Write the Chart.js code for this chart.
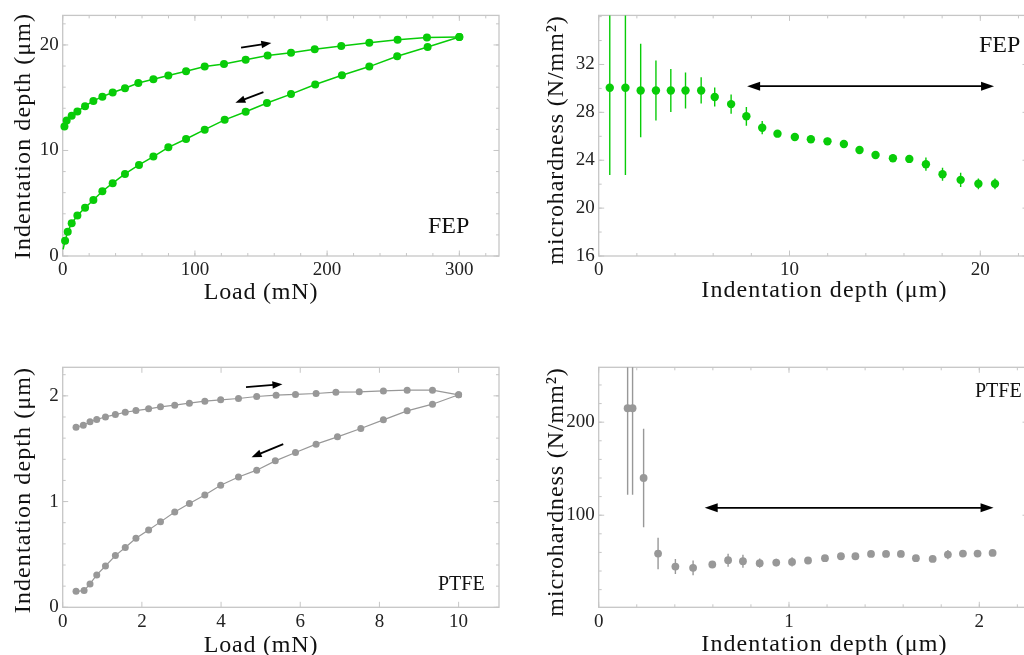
<!DOCTYPE html>
<html><head><meta charset="utf-8">
<script src="https://cdn.jsdelivr.net/npm/chart.js@4/dist/chart.umd.min.js"></script>
<style>
html,body{margin:0;padding:0;background:#fff;overflow:hidden;width:1024px;height:655px;position:relative;}
canvas{position:absolute;}
</style></head><body>
<canvas id="c1" width="512" height="320" style="left:0;top:0;width:512px;height:320px"></canvas>
<canvas id="c2" width="540" height="320" style="left:512px;top:0;width:540px;height:320px"></canvas>
<canvas id="c3" width="512" height="330" style="left:0;top:330px;width:512px;height:330px"></canvas>
<canvas id="c4" width="540" height="330" style="left:512px;top:330px;width:540px;height:330px"></canvas>
<script>
// ---------- DATA ----------
// FEP load-depth loop
const fepLoadLoading  = [0.3,1.8,3.8,6.8,11.1,16.9,23.2,30,37.8,47.1,57.7,68.6,79.9,93.3,107.4,122.5,138.4,154.5,172.7,191,211.2,231.9,253,276,300];
const fepDepthLoading = [0.62,1.45,2.3,3.1,3.84,4.57,5.3,6.14,6.9,7.78,8.63,9.42,10.3,11.09,11.97,12.9,13.67,14.5,15.34,16.25,17.13,17.95,18.93,19.8,20.75];
const fepLoadUnloading  = [300,275.5,253.3,231.9,210.7,190.6,172.7,155,138.4,122,107.4,93.3,79.9,68.6,57.2,47.1,37.8,30,23.2,16.9,11.1,6.8,3,1.3];
const fepDepthUnloading = [20.75,20.7,20.5,20.2,19.9,19.6,19.25,19.0,18.6,18.2,17.95,17.5,17.1,16.75,16.4,15.9,15.5,15.1,14.7,14.2,13.7,13.3,12.85,12.28];
// FEP microhardness
const fepHDepth = [0.58,1.40,2.2,3.0,3.78,4.55,5.37,6.08,6.94,7.74,8.57,9.37,10.28,11.12,11.99,12.85,13.67,14.51,15.42,16.28,17.15,18.02,18.97,19.9,20.77];
const fepHard   = [30.06,30.06,29.83,29.83,29.83,29.83,29.83,29.28,28.69,27.67,26.72,26.22,25.94,25.75,25.58,25.36,24.86,24.44,24.17,24.11,23.67,22.83,22.36,22.03,22.03];
const fepHErr   = [7.3,7.3,3.9,2.5,1.8,1.5,1.1,0.8,0.8,0.78,0.55,0.2,0.2,0.3,0.3,0.25,0.3,0.3,0.3,0.25,0.55,0.55,0.6,0.45,0.45];
// PTFE load-depth loop
const ptfeLoadLoading  = [0.337,0.54,0.69,0.86,1.08,1.33,1.58,1.85,2.17,2.47,2.83,3.2,3.59,3.99,4.44,4.9,5.37,5.88,6.4,6.94,7.53,8.1,8.7,9.34,10.0];
const ptfeDepthLoading = [0.151,0.158,0.221,0.306,0.391,0.489,0.565,0.653,0.732,0.808,0.902,0.981,1.063,1.155,1.233,1.297,1.385,1.464,1.543,1.612,1.691,1.773,1.858,1.921,2.01];
const ptfeLoadUnloading  = [10.0,9.34,8.7,8.1,7.49,6.9,6.4,5.88,5.39,4.9,4.44,3.99,3.59,3.2,2.83,2.47,2.17,1.85,1.58,1.33,1.08,0.86,0.69,0.52,0.337];
const ptfeDepthUnloading = [2.01,2.054,2.054,2.047,2.038,2.035,2.022,2.013,2.006,1.994,1.975,1.962,1.95,1.931,1.912,1.896,1.877,1.861,1.845,1.823,1.801,1.776,1.754,1.722,1.703];
// PTFE microhardness
const ptfeHDepth = [0.152,0.178,0.236,0.312,0.403,0.496,0.597,0.68,0.758,0.846,0.933,1.016,1.1,1.189,1.273,1.349,1.431,1.51,1.588,1.667,1.755,1.835,1.914,1.991,2.07];
const ptfeHard   = [215,215,140,58.8,44.8,43.4,47,51.6,50.5,48.4,49.1,49.8,51.3,53.8,55.9,55.9,58.4,58.4,58.4,53.8,53,57.7,58.8,58.8,59.5];
const ptfeHErr   = [93,93,53,17,8,8,3,7,7,5,4,5,3,2,2,2,2,2,2,2,2,5,2,2,2];
// tick labels
const p1XTicks = [0,100,200,300], p1YTicks = [0,10,20];
const p2XTicks = [0,10,20],       p2YTicks = [16,20,24,28,32];
const p3XTicks = [0,2,4,6,8,10],  p3YTicks = [0,1,2];
const p4XTicks = [0,1,2],         p4YTicks = [100,200];
// arrows [x1,y1,x2,y2] in data units
const p1Arrows = [[134.9,19.75,157.8,20.19],[151.8,15.53,130.6,14.52]];
const p3Arrows = [[4.63,2.082,5.55,2.11],[5.57,1.543,4.77,1.42]];
const p2Range = [7.78,20.72,30.19];
const p4Range = [0.557,2.075,107.9];

// ---------- STYLE ----------
const GREEN = 'rgb(8,204,8)', GRAY = 'rgb(152,152,152)';
const FRAME = '#c6c6c6';
const FONT = "'Liberation Serif', 'Times New Roman', serif";

function range(a,b,s){const r=[];for(let v=a;v<=b+1e-9;v+=s)r.push(+v.toFixed(6));return r;}
function pts(xs,ys){return xs.map((x,i)=>({x,y:ys[i]}));}

const framePlugin = {
  id:'frameTicks',
  beforeDatasetsDraw(chart, args, o){
    const {ctx, chartArea:a, scales:{x,y}} = chart;
    ctx.save();
    ctx.strokeStyle = FRAME; ctx.lineWidth = 1.3;
    ctx.strokeRect(a.left, a.top, a.right-a.left, a.bottom-a.top);
    ctx.lineWidth = 1;
    const drawX=(vals,len)=>vals.forEach(v=>{ if(v<x.min||v>x.max) return; const p=x.getPixelForValue(v);
      ctx.beginPath(); ctx.moveTo(p,a.bottom); ctx.lineTo(p,a.bottom-len); ctx.moveTo(p,a.top); ctx.lineTo(p,a.top+len); ctx.stroke();});
    const drawY=(vals,len)=>vals.forEach(v=>{ if(v<y.min||v>y.max) return; const p=y.getPixelForValue(v);
      ctx.beginPath(); ctx.moveTo(a.left,p); ctx.lineTo(a.left+len,p); ctx.moveTo(a.right,p); ctx.lineTo(a.right-len,p); ctx.stroke();});
    drawX(o.xMinor||[],3); drawY(o.yMinor||[],3);
    drawX(o.xMajor||[],5.5); drawY(o.yMajor||[],5.5);
    // error bars
    if(o.err){
      ctx.save(); ctx.beginPath(); ctx.rect(a.left,a.top,a.right-a.left,a.bottom-a.top); ctx.clip();
      ctx.strokeStyle=o.err.color; ctx.lineWidth=1.4;
      o.err.x.forEach((xv,i)=>{ const px=x.getPixelForValue(xv);
        ctx.beginPath(); ctx.moveTo(px,y.getPixelForValue(o.err.y[i]-o.err.e[i])); ctx.lineTo(px,y.getPixelForValue(o.err.y[i]+o.err.e[i])); ctx.stroke();});
      ctx.restore();
    }
    ctx.restore();
  },
  afterDatasetsDraw(chart, args, o){
    const {ctx, scales:{x,y}} = chart;
    ctx.save();
    ctx.fillStyle='#000'; ctx.strokeStyle='#000';
    const head=(x1,y1,x2,y2,L,W)=>{ const ang=Math.atan2(y2-y1,x2-x1);
      ctx.beginPath(); ctx.moveTo(x2,y2);
      ctx.lineTo(x2-L*Math.cos(ang)+W*Math.sin(ang), y2-L*Math.sin(ang)-W*Math.cos(ang));
      ctx.lineTo(x2-L*Math.cos(ang)-W*Math.sin(ang), y2-L*Math.sin(ang)+W*Math.cos(ang));
      ctx.closePath(); ctx.fill(); };
    (o.arrows||[]).forEach(ar=>{
      const x1=x.getPixelForValue(ar[0]), y1=y.getPixelForValue(ar[1]), x2=x.getPixelForValue(ar[2]), y2=y.getPixelForValue(ar[3]);
      const ang=Math.atan2(y2-y1,x2-x1);
      ctx.lineWidth=1.8; ctx.beginPath(); ctx.moveTo(x1,y1); ctx.lineTo(x2-6*Math.cos(ang),y2-6*Math.sin(ang)); ctx.stroke();
      head(x1,y1,x2,y2,10,3.8);
    });
    if(o.dbl){
      const x1=x.getPixelForValue(o.dbl[0]), x2=x.getPixelForValue(o.dbl[1]), yy=y.getPixelForValue(o.dbl[2]);
      ctx.lineWidth=1.8; ctx.beginPath(); ctx.moveTo(x1+8,yy); ctx.lineTo(x2-8,yy); ctx.stroke();
      head(x1,yy,x2,yy,13,4.5); head(x2,yy,x1,yy,13,4.5);
    }
    // texts
    ctx.fillStyle='#111'; ctx.textBaseline='alphabetic';
    (o.texts||[]).forEach(t=>{
      ctx.save(); ctx.font=t.size+'px '+FONT;
      if('letterSpacing' in ctx) ctx.letterSpacing=(t.ls||0)+'px';
      ctx.translate(t.x,t.y); if(t.rot) ctx.rotate(t.rot);
      ctx.textAlign=t.align||'left'; ctx.fillText(t.s,0,0); ctx.restore();
    });
    ctx.restore();
  }
};

function makeChart(id, W, H, area, xr, yr, xTicks, yTicks, datasets, extra){
  const tickFont={family:FONT,size:19};
  return new Chart(document.getElementById(id), {
    type:'scatter',
    data:{datasets},
    plugins:[framePlugin],
    options:{
      responsive:false, animation:false, devicePixelRatio:1,
      layout:{padding:{top:area.T,right:W-area.R,left:0,bottom:0}},
      plugins:{legend:{display:false},tooltip:{enabled:false},frameTicks:extra},
      scales:{
        x:{type:'linear',min:xr[0],max:xr[1],
           afterBuildTicks:s=>{s.ticks=xTicks.map(v=>({value:v}));},
           afterFit:s=>{s.height=H-area.B;},
           ticks:{font:tickFont,color:'#222',padding:3,maxRotation:0,autoSkip:false,callback:v=>String(v)},
           grid:{display:false,drawTicks:false},border:{display:false}},
        y:{type:'linear',min:yr[0],max:yr[1],
           afterBuildTicks:s=>{s.ticks=yTicks.map(v=>({value:v}));},
           afterFit:s=>{s.width=area.L;},
           ticks:{font:tickFont,color:'#222',padding:4,autoSkip:false,callback:v=>String(v)},
           grid:{display:false,drawTicks:false},border:{display:false}}
      }
    }
  });
}

const lineDs=(data,color,r,bw)=>({data,showLine:true,borderColor:color,borderWidth:bw,backgroundColor:color,
  pointBackgroundColor:color,pointBorderWidth:0,pointRadius:r,pointHoverRadius:r,clip:6});

// Panel 1
makeChart('c1',512,320,{L:62.7,T:15,R:499,B:256},[0,330],[0,22.8],p1XTicks,p1YTicks,[
  Object.assign(lineDs(pts(fepLoadLoading,fepDepthLoading),GREEN,4,1.5),{pointRadius:c=>c.dataIndex===0?0:4}),
  lineDs(pts(fepLoadUnloading,fepDepthUnloading),GREEN,4,1.5)
],{xMajor:p1XTicks,yMajor:p1YTicks,xMinor:range(0,330,20),yMinor:range(0,22.8,2),arrows:p1Arrows,
  texts:[{s:'FEP',x:428,y:233,size:24},{s:'Load (mN)',x:261,y:299,size:24,align:'center',ls:0.8},
         {s:'Indentation depth (μm)',x:29.5,y:136,size:24,align:'center',rot:-Math.PI/2,ls:1.1}]});

// Panel 2
makeChart('c2',540,320,{L:86.7,T:15,R:516,B:256},[0,22.5],[16,36.1],p2XTicks,p2YTicks,[
  {data:pts(fepHDepth,fepHard),showLine:false,pointBackgroundColor:GREEN,backgroundColor:GREEN,pointBorderWidth:0,pointRadius:4.2,clip:6}
],{xMajor:p2XTicks,yMajor:p2YTicks,xMinor:range(0,22.5,2),yMinor:range(16,36.1,2),
  err:{x:fepHDepth,y:fepHard,e:fepHErr,color:GREEN},dbl:p2Range,
  texts:[{s:'FEP',x:467,y:52,size:24},{s:'Indentation depth (μm)',x:312.5,y:297,size:24,align:'center',ls:1.1},
         {s:'microhardness (N/mm²)',x:50.5,y:140,size:24,align:'center',rot:-Math.PI/2,ls:0.9}]});

// Panel 3
makeChart('c3',512,330,{L:62.7,T:37.3,R:499,B:277.3},[0,11.02],[0,2.27],p3XTicks,p3YTicks,[
  lineDs(pts(ptfeLoadLoading,ptfeDepthLoading),GRAY,3.5,1.2),
  lineDs(pts(ptfeLoadUnloading,ptfeDepthUnloading),GRAY,3.5,1.2)
],{xMajor:p3XTicks,yMajor:p3YTicks,xMinor:[],yMinor:range(0,2.27,0.2),arrows:p3Arrows,
  texts:[{s:'PTFE',x:438,y:260,size:20},{s:'Load (mN)',x:261,y:321.7,size:24,align:'center',ls:0.8},
         {s:'Indentation depth (μm)',x:29.5,y:160,size:24,align:'center',rot:-Math.PI/2,ls:1.1}]});

// Panel 4
makeChart('c4',540,330,{L:86.7,T:37.3,R:516,B:277.3},[0,2.256],[1,259],p4XTicks,p4YTicks,[
  {data:pts(ptfeHDepth,ptfeHard),showLine:false,pointBackgroundColor:GRAY,backgroundColor:GRAY,pointBorderWidth:0,pointRadius:3.9,clip:6}
],{xMajor:p4XTicks,yMajor:p4YTicks,xMinor:range(0,2.256,0.2),yMinor:range(20,259,20),
  err:{x:ptfeHDepth,y:ptfeHard,e:ptfeHErr,color:GRAY},dbl:p4Range,
  texts:[{s:'PTFE',x:463,y:67,size:20},{s:'Indentation depth (μm)',x:312.5,y:320.7,size:24,align:'center',ls:1.1},
         {s:'microhardness (N/mm²)',x:50.5,y:162,size:24,align:'center',rot:-Math.PI/2,ls:0.9}]});
</script>
</body></html>
